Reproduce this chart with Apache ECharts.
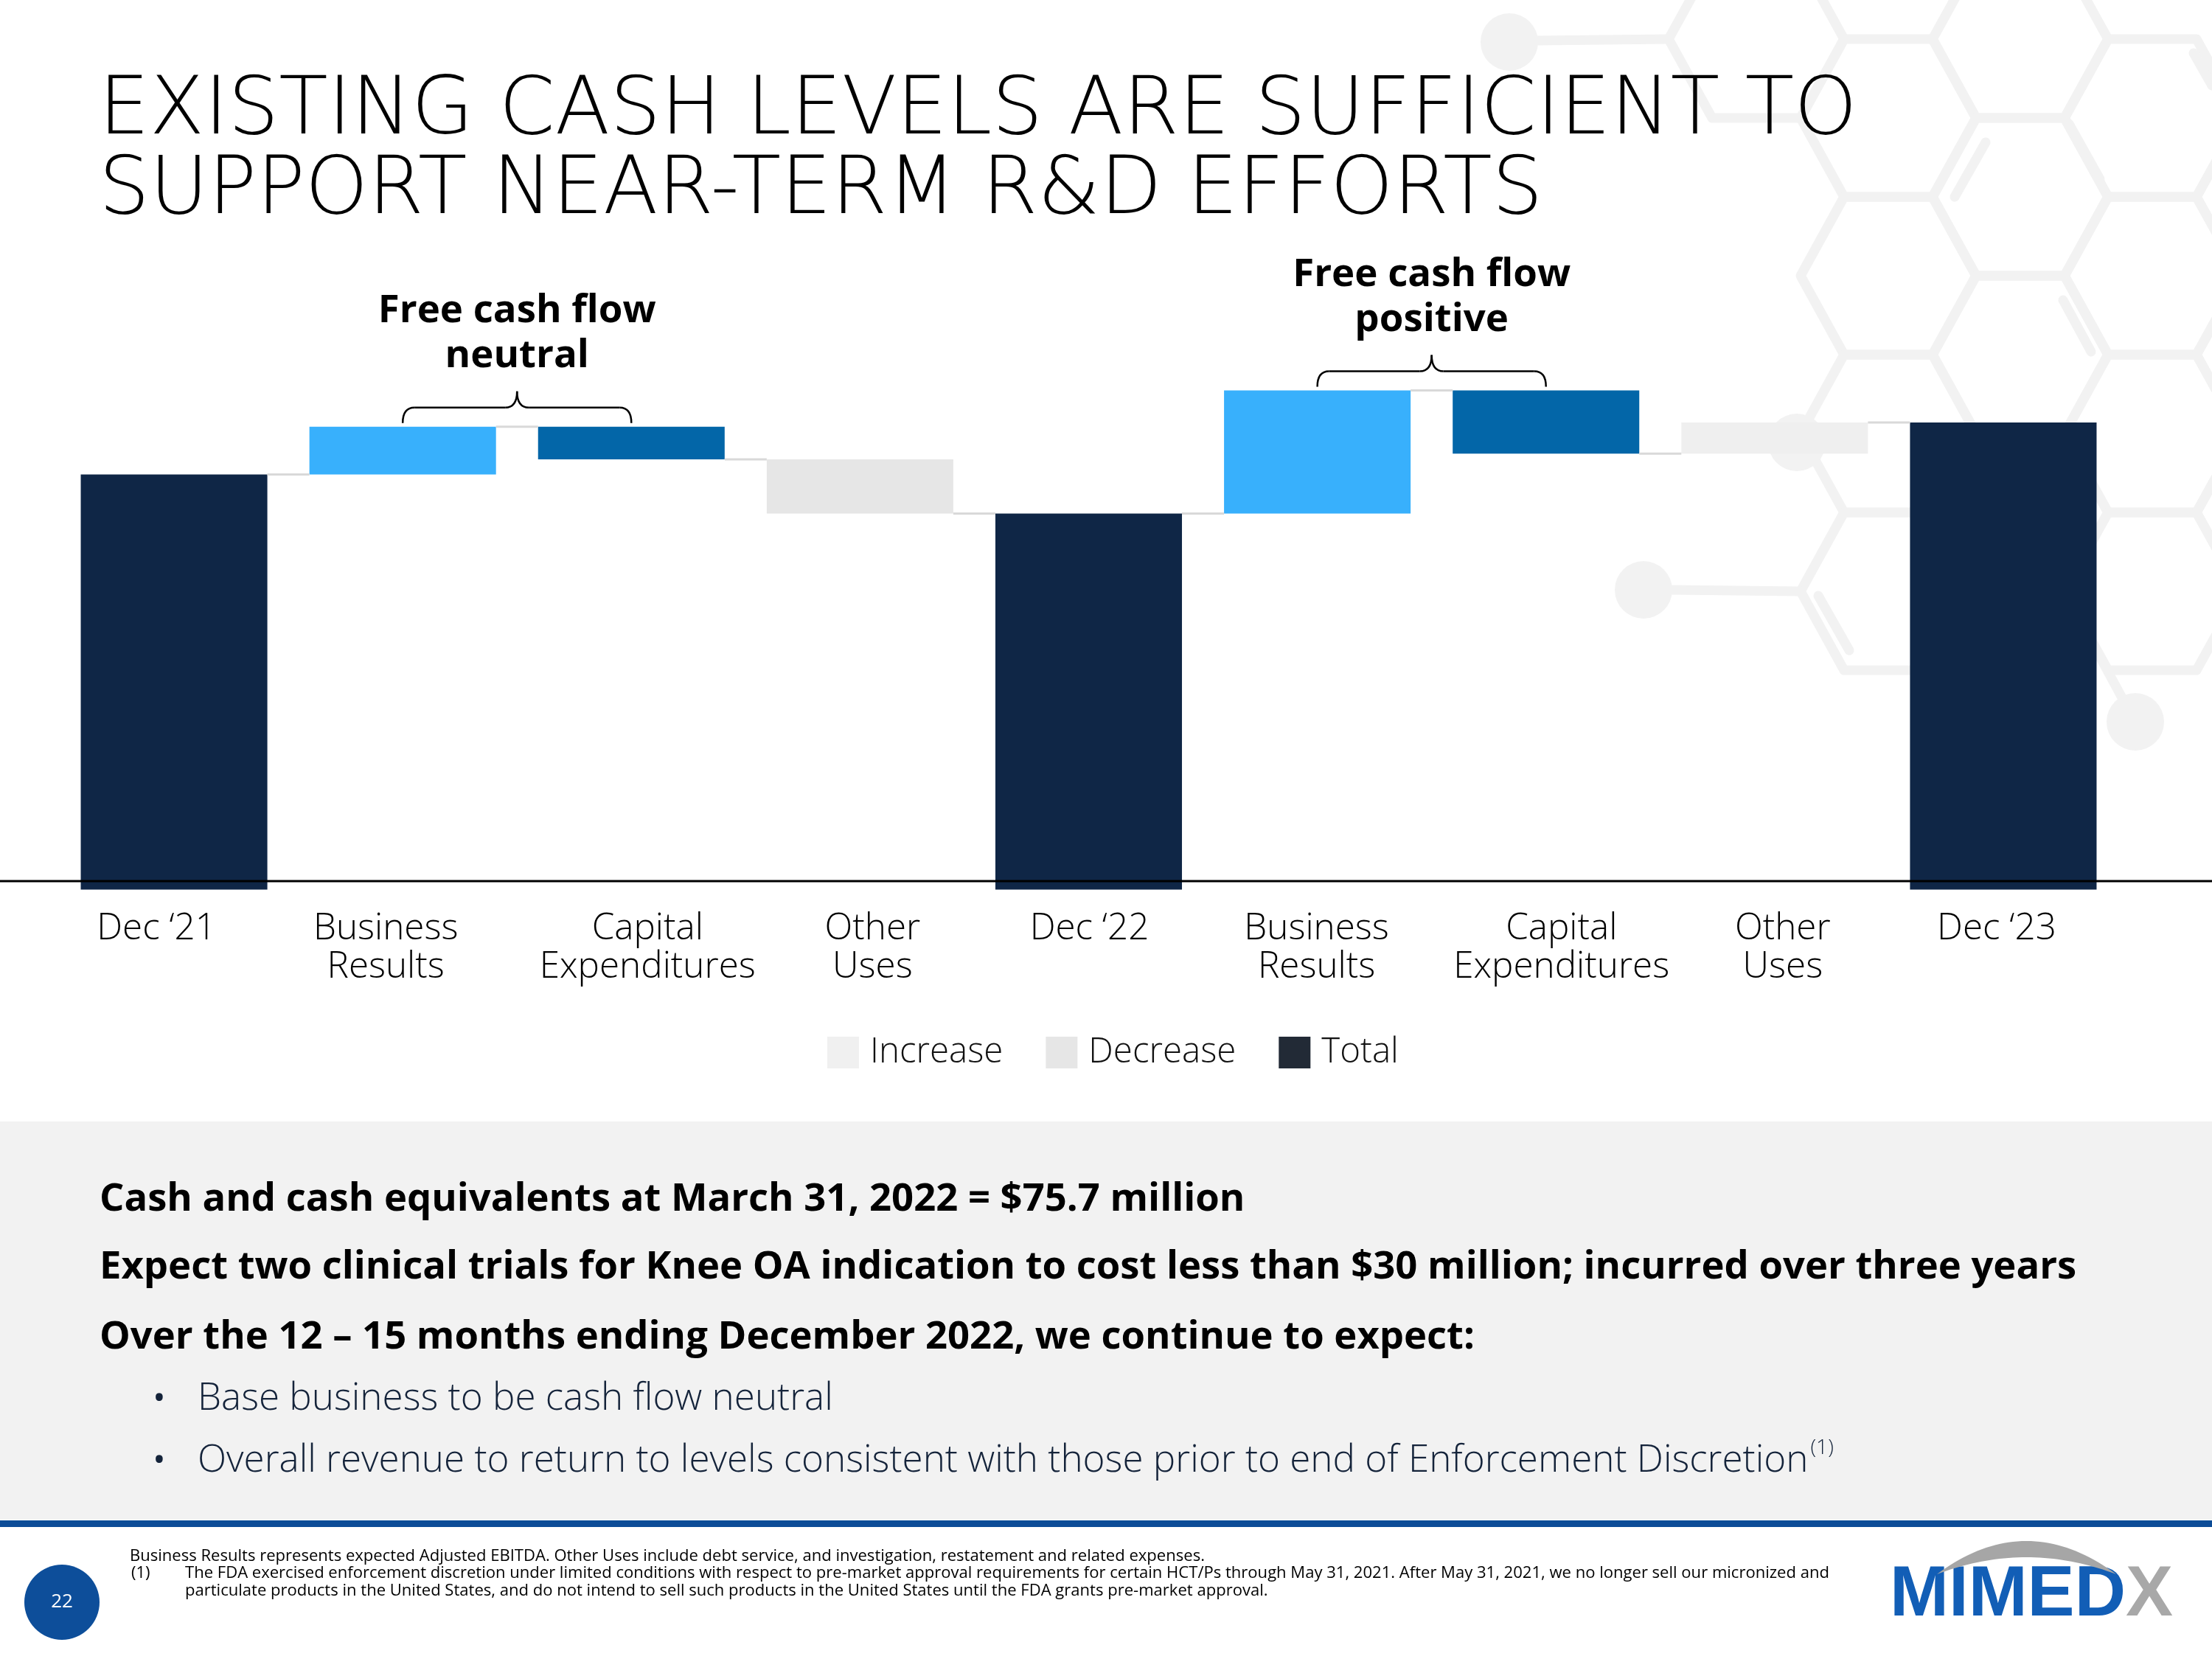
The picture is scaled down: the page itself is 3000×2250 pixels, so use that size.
<!DOCTYPE html>
<html><head><meta charset="utf-8">
<script src="https://cdn.jsdelivr.net/npm/echarts@6/dist/echarts.min.js"></script>
<style>html,body{margin:0;padding:0;background:#fff}#c{width:3000px;height:2250px}</style>
</head><body><div id="c"></div>
<script>
// ---------------- DATA ----------------
const categories = ['Dec ‘21', 'Business\nResults', 'Capital\nExpenditures', 'Other\nUses', 'Dec ‘22',
                    'Business\nResults', 'Capital\nExpenditures', 'Other\nUses', 'Dec ‘23'];
const totals  = [88.0, null, null, null, 79.7, null, null, null, 99.0];
const changes = [null, 10.1, -6.9, -11.5, null, 26.1, -13.4, 6.6, null];
const legendNames = ['Increase', 'Decrease', 'Total'];
const annotations = [
  { text: 'Free cash flow\nneutral', from: 1, to: 2 },
  { text: 'Free cash flow\npositive', from: 5, to: 6 }
];
const titleText = 'EXISTING CASH LEVELS ARE SUFFICIENT TO\nSUPPORT NEAR-TERM R&D EFFORTS';
const boxLines = [
  'Cash and cash equivalents at March 31, 2022 = $75.7 million',
  'Expect two clinical trials for Knee OA indication to cost less than $30 million; incurred over three years',
  'Over the 12 – 15 months ending December 2022, we continue to expect:'
];
const bullets = [
  'Base business to be cash flow neutral',
  'Overall revenue to return to levels consistent with those prior to end of Enforcement Discretion'
];
const footnotes = [
  'Business Results represents expected Adjusted EBITDA. Other Uses include debt service, and investigation, restatement and related expenses.',
  'The FDA exercised enforcement discretion under limited conditions with respect to pre-market approval requirements for certain HCT/Ps through May 31, 2021. After May 31, 2021, we no longer sell our micronized and',
  'particulate products in the United States, and do not intend to sell such products in the United States until the FDA grants pre-market approval.'
];

// ---------------- STYLES ----------------
const barColors = ['#0F2646', '#38B0FC', '#0366A8', '#E6E6E6', '#0F2646', '#38B0FC', '#0366A8', '#EFEFEF', '#0F2646'];
const labelShift = [-24, -23, 22, 17, 1, -1, 21, 11, -9];   // px offsets of tick labels (layout)
const legendColors = { Increase: '#F0F0F0', Decrease: '#E6E6E6', Total: '#222A36' };
const F = '"Open Sans", "Noto Sans", sans-serif';
const TF = '"DejaVu Sans ExtraLight", "DejaVu Sans", sans-serif';
const BAR_GAP = '18.4%';
const BAR_FRAC = 0.816;

const mctx = document.createElement('canvas').getContext('2d');
function measure(text, weight, size, fam) { mctx.font = weight + ' ' + size + 'px ' + fam; return mctx.measureText(text).width; }
function fit(text, weight, target, lo, hi, fam) { const w = measure(text, weight, 100, fam || F); return Math.max(lo, Math.min(hi, 100 * target / w)); }

// ---------------- WATERFALL BUILD ----------------
const placeholder = [], inc = [], dec = [], tot = [], tops = [], conn = [];
let level = 0;
for (let i = 0; i < categories.length; i++) {
  if (totals[i] != null) {
    level = totals[i];
    placeholder.push(0); inc.push('-'); dec.push('-');
    tot.push({ value: totals[i], itemStyle: { color: barColors[i] } });
    tops.push(totals[i]);
  } else {
    const s = level, e = +(level + changes[i]).toFixed(4);
    placeholder.push(Math.min(s, e)); tot.push('-');
    if (changes[i] >= 0) { inc.push({ value: changes[i], itemStyle: { color: barColors[i] } }); dec.push('-'); }
    else { dec.push({ value: -changes[i], itemStyle: { color: barColors[i] } }); inc.push('-'); }
    tops.push(Math.max(s, e));
    level = e;
  }
  if (i < categories.length - 1) conn.push([i, level]);
}

const titleSize = fit('EXISTING CASH LEVELS ARE SUFFICIENT TO', 200, 2385, 85, 112, TF);
const axisSize = fit('Expenditures', 300, 293, 38, 50);
const legendSize = fit('Decrease', 300, 200, 38, 48);

// rich styles for per-label horizontal offsets
const rich = {};
labelShift.forEach((d, k) => {
  rich['s' + k] = { fontFamily: F, fontWeight: 300, fontSize: axisSize, lineHeight: 52, color: '#000',
    padding: d >= 0 ? [0, 0, 0, 2 * d] : [0, -2 * d, 0, 0] };
});

const chart = echarts.init(document.getElementById('c'), null, { width: 3000, height: 2250 });
const option = {
  animation: false,
  backgroundColor: '#ffffff',
  title: {
    text: titleText, left: 129, top: 94,
    textStyle: { fontFamily: TF, fontWeight: 200, fontSize: titleSize, lineHeight: 108, color: '#000' }
  },
  legend: {
    data: legendNames.map(n => ({ name: n, itemStyle: { color: legendColors[n] } })),
    left: 1117, top: 1399, itemWidth: 43, itemHeight: 43, itemGap: 58, icon: 'rect', selectedMode: false,
    textStyle: { fontFamily: F, fontWeight: 300, fontSize: legendSize, color: '#111', padding: [0, 0, 0, 10] }
  },
  grid: { left: 81, right: 128, top: 502.6, bottom: 1043.4 },
  xAxis: {
    type: 'category', data: categories,
    axisLine: { show: false }, axisTick: { show: false }, splitLine: { show: false },
    axisLabel: { interval: 0, margin: 27, fontFamily: F, fontWeight: 300, fontSize: axisSize, lineHeight: 52, color: '#000',
      formatter: function (v, idx) { return v.split('\n').map(s => '{s' + idx + '|' + s + '}').join('\n'); },
      rich: rich }
  },
  yAxis: { type: 'value', min: 0, max: 110, show: false, splitLine: { show: false } },
  series: [
    { name: 'placeholder', type: 'bar', stack: 'w', barCategoryGap: BAR_GAP, silent: true,
      itemStyle: { color: 'rgba(0,0,0,0)' }, data: placeholder, z: 2 },
    { name: 'Increase', type: 'bar', stack: 'w', barCategoryGap: BAR_GAP, itemStyle: { color: legendColors.Increase }, data: inc, z: 2 },
    { name: 'Decrease', type: 'bar', stack: 'w', barCategoryGap: BAR_GAP, itemStyle: { color: legendColors.Decrease }, data: dec, z: 2 },
    { name: 'Total', type: 'bar', stack: 'w', barCategoryGap: BAR_GAP, itemStyle: { color: legendColors.Total }, data: tot, z: 2 },
    { name: 'connectors', type: 'custom', silent: true, z: 3, data: conn,
      renderItem: function (params, api) {
        const i = api.value(0), lv = api.value(1);
        const p0 = api.coord([i, lv]), p1 = api.coord([i + 1, lv]);
        const bw = api.size([1, 0])[0] * BAR_FRAC;
        return { type: 'line', shape: { x1: p0[0] + bw / 2, y1: p0[1], x2: p1[0] - bw / 2, y2: p1[1] },
                 style: { stroke: '#D9D9D9', lineWidth: 3 } };
      } }
  ]
};
chart.setOption(option);

// ---------------- DECORATION / ANNOTATIONS ----------------
const px = (i, v) => chart.convertToPixel({ gridIndex: 0 }, [i, v]);
const zeroY = px(0, 0)[1];
const els = [];

// background honeycomb
const HEX_STROKE = '#F2F2F2';
const hexCenters = [[2382, 53], [2561, 160], [2740, 53], [2919, 160], [2561, 374], [2740, 267], [2919, 374],
  [2740, 481], [2561, 588], [2919, 588], [2740, 695], [2561, 802], [2919, 802], [3098, 267], [3098, 481], [3098, 695]];
hexCenters.forEach(c => {
  const [cx, cy] = c;
  els.push({ type: 'polygon', silent: true, z: 0,
    shape: { points: [[cx - 119, cy], [cx - 60, cy - 107], [cx + 60, cy - 107], [cx + 119, cy], [cx + 60, cy + 107], [cx - 60, cy + 107]] },
    style: { fill: null, stroke: HEX_STROKE, lineWidth: 13, lineJoin: 'round' } });
});
[[2086, 55, 2263, 53], [2268, 800, 2442, 802], [2800, 802, 2880, 950],
 [2651, 267, 2693, 193], [2806, 168, 2848, 243], [2798, 407, 2836, 477], [2466, 808, 2508, 882], [2975, 72, 3000, 116]
].forEach(l => els.push({ type: 'line', silent: true, z: 0, shape: { x1: l[0], y1: l[1], x2: l[2], y2: l[3] },
  style: { stroke: HEX_STROKE, lineWidth: 13, lineCap: 'round' } }));
[[2047, 57], [2437, 600], [2229, 800], [2896, 979]].forEach(d => els.push({ type: 'circle', silent: true, z: 0,
  shape: { cx: d[0], cy: d[1], r: 39 }, style: { fill: HEX_STROKE } }));

// full-width baseline
els.push({ type: 'line', silent: true, z: 50, shape: { x1: 0, y1: zeroY - 11.5, x2: 3000, y2: zeroY - 11.5 },
  style: { stroke: '#000', lineWidth: 3 } });

// braces + annotation text
const annSize = fit('Free cash flow', 'bold', 377, 44, 58);
function brace(xl, xr, yEnd) {
  const xm = (xl + xr) / 2, yh = yEnd - 21, yt = yEnd - 43, r = 16;
  const st = { stroke: '#000', lineWidth: 2.5, fill: null };
  return [
    { type: 'bezierCurve', shape: { x1: xl, y1: yEnd, x2: xl + r, y2: yh, cpx1: xl, cpy1: yh }, style: st },
    { type: 'line', shape: { x1: xl + r, y1: yh, x2: xm - r, y2: yh }, style: st },
    { type: 'bezierCurve', shape: { x1: xm - r, y1: yh, x2: xm, y2: yt, cpx1: xm, cpy1: yh }, style: st },
    { type: 'bezierCurve', shape: { x1: xm, y1: yt, x2: xm + r, y2: yh, cpx1: xm, cpy1: yh }, style: st },
    { type: 'line', shape: { x1: xm + r, y1: yh, x2: xr - r, y2: yh }, style: st },
    { type: 'bezierCurve', shape: { x1: xr - r, y1: yh, x2: xr, y2: yEnd, cpx1: xr, cpy1: yh }, style: st }
  ].map(e => Object.assign(e, { silent: true, z: 30 }));
}
annotations.forEach(a => {
  const topV = Math.max(tops[a.from], tops[a.to]);
  const xl = px(a.from, topV)[0], xr = px(a.to, topV)[0];
  const yEnd = px(a.from, topV)[1] - 5;
  brace(xl, xr, yEnd).forEach(e => els.push(e));
  els.push({ type: 'text', silent: true, z: 30,
    style: { text: a.text, x: (xl + xr) / 2, y: yEnd - 43 - 78, fontFamily: F, fontWeight: 'bold', fontSize: annSize,
      lineHeight: 61, fill: '#000', align: 'center', verticalAlign: 'middle', textAlign: 'center', textVerticalAlign: 'middle' } });
});

// grey info box
els.push({ type: 'rect', silent: true, z: 1, shape: { x: 0, y: 1521, width: 3000, height: 540 }, style: { fill: '#F2F2F2' } });
els.push({ type: 'rect', silent: true, z: 1, shape: { x: 0, y: 2062, width: 3000, height: 9 }, style: { fill: '#0C4C97' } });
function txt(text, x, y, size, weight, fill, align) {
  return { type: 'text', silent: true, z: 20,
    style: { text: text, x: x, y: y, fontFamily: F, fontWeight: weight, fontSize: size, fill: fill,
      align: align || 'left', verticalAlign: 'middle', textAlign: align || 'left', textVerticalAlign: 'middle' } };
}
const boldSize = fit(boxLines[1], 'bold', 2682, 40, 56);
const boxBase = [1643, 1735, 1830];
boxLines.forEach((t, k) => els.push(txt(t, 135, boxBase[k] - 0.3 * boldSize, boldSize, 'bold', '#000')));
const bulSize = fit(bullets[1], 300, 2185, 38, 52);
const bulBase = [1913, 1997];
bullets.forEach((t, k) => {
  const y = bulBase[k] - 0.3 * bulSize;
  els.push(txt('•', 216, y, bulSize * 0.9, 'normal', '#14233A', 'center'));
  els.push(txt(t, 268, y, bulSize, 300, '#14233A'));
  if (k === 1) {
    const w = measure(t, 300, bulSize, F);
    els.push(txt('(1)', 268 + w + 3, y - bulSize * 0.35, bulSize * 0.55, 300, '#14233A'));
  }
});

// footnotes
const fnSize = fit(footnotes[1], 'normal', 2232, 16, 24);
els.push(txt(footnotes[0], 176, 2111, fnSize, 'normal', '#000'));
els.push(txt('(1)', 178, 2134, fnSize, 'normal', '#000'));
els.push(txt(footnotes[1], 251, 2134, fnSize, 'normal', '#000'));
els.push(txt(footnotes[2], 251, 2158, fnSize, 'normal', '#000'));

// page number
els.push({ type: 'circle', silent: true, z: 5, shape: { cx: 84, cy: 2173, r: 51 }, style: { fill: '#0D4E9A' } });
els.push(txt('22', 84, 2173, 26, 'normal', '#fff', 'center'));

// logo
const LF = '"Liberation Sans", Arial, sans-serif';
mctx.font = 'bold 100px ' + LF;
const logoSize = 100 * 384 / mctx.measureText('MIMEDX').width;
mctx.font = 'bold ' + logoSize + 'px ' + LF;
const wM = mctx.measureText('MIMED').width;
els.push({ type: 'text', silent: true, z: 20, style: { text: 'MIMED', x: 2563, y: 2213, fontFamily: LF, fontWeight: 'bold',
  fontSize: logoSize, fill: '#125EB6', align: 'left', verticalAlign: 'bottom', textAlign: 'left', textVerticalAlign: 'bottom' } });
els.push({ type: 'text', silent: true, z: 20, style: { text: 'X', x: 2563 + wM, y: 2213, fontFamily: LF, fontWeight: 'bold',
  fontSize: logoSize, fill: '#A8A8A8', align: 'left', verticalAlign: 'bottom', textAlign: 'left', textVerticalAlign: 'bottom' } });
const arcPts = [];
const qb = (t, a, c, b) => (1 - t) * (1 - t) * a + 2 * (1 - t) * t * c + t * t * b;
for (let k = 0; k <= 40; k++) { const t = k / 40; arcPts.push([qb(t, 2627, 2748, 2870), qb(t, 2135, 2045, 2135)]); }
for (let k = 40; k >= 0; k--) { const t = k / 40; arcPts.push([qb(t, 2627, 2748, 2870), qb(t, 2135, 2089, 2135)]); }
els.push({ type: 'polygon', silent: true, z: 20, shape: { points: arcPts }, style: { fill: '#A6A6A6' } });

chart.setOption({ graphic: { elements: els } });
</script>
</body></html>
